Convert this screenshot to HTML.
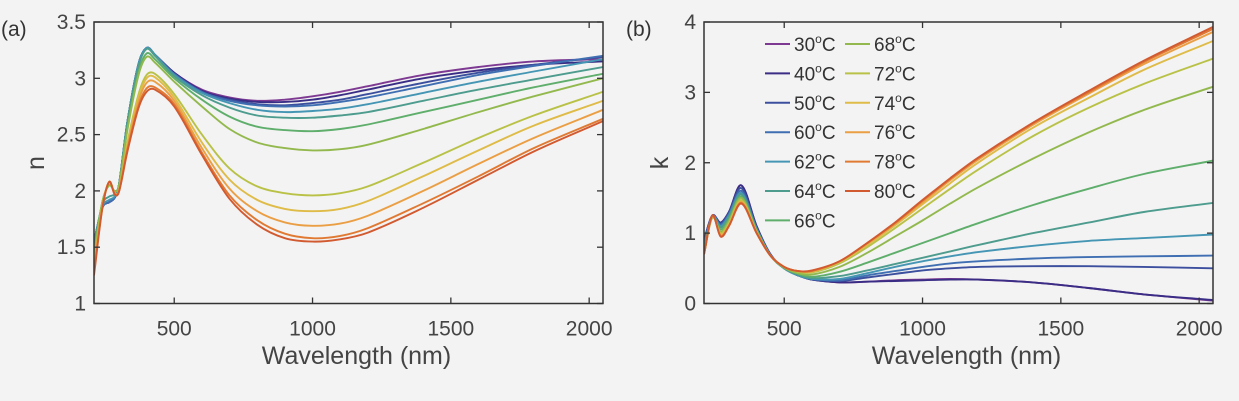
<!DOCTYPE html>
<html><head><meta charset="utf-8"><style>
html,body{margin:0;padding:0;background:#f3f3f3;}
svg{display:block;font-family:"Liberation Sans","DejaVu Sans",sans-serif;}
</style></head><body>
<svg id="fig" width="1239" height="401" viewBox="0 0 1239 401" xmlns="http://www.w3.org/2000/svg">
<rect width="1239" height="401" fill="#f3f3f3"/>
<g id="pa"></g>
<g id="pb"></g>
</svg>
<script>
const temps = ["30","40","50","60","62","64","66","68","72","74","76","78","80"];
const colors = ["#7e3a93","#3a2d85","#3c4f9e","#3f6fb2","#4596b4","#4d9c8e","#5fae6c","#93b94e","#b9c247","#dfbb47","#eb9f45","#e07a33","#d25a30"];
const wN = [210,240,265,285,300,330,370,400,430,500,600,700,800,900,1000,1100,1200,1400,1600,1800,2050];
const n30 = [1.55,1.85,1.9,1.94,2.05,2.6,3.12,3.27,3.21,3.05,2.9,2.83,2.8,2.81,2.84,2.88,2.93,3.03,3.1,3.15,3.17];
const n40 = [1.55,1.85,1.9,1.94,2.05,2.6,3.12,3.27,3.21,3.05,2.89,2.82,2.79,2.79,2.81,2.85,2.9,3.0,3.07,3.12,3.15];
const n50 = [1.55,1.85,1.9,1.94,2.05,2.6,3.12,3.27,3.21,3.04,2.88,2.81,2.77,2.76,2.78,2.81,2.86,2.96,3.05,3.12,3.19];
const n60 = [1.55,1.85,1.9,1.94,2.05,2.6,3.12,3.27,3.21,3.04,2.88,2.8,2.76,2.75,2.76,2.79,2.83,2.93,3.03,3.11,3.2];
const n62 = [1.55,1.86,1.92,1.95,2.05,2.6,3.12,3.27,3.21,3.03,2.87,2.78,2.72,2.7,2.71,2.73,2.77,2.87,2.97,3.06,3.17];
const n64 = [1.52,1.88,1.95,1.97,2.05,2.6,3.1,3.26,3.2,3.02,2.85,2.74,2.67,2.65,2.65,2.67,2.7,2.8,2.9,2.99,3.1];
const n66 = [1.45,1.9,2.05,2.0,2.05,2.55,3.05,3.22,3.17,3.0,2.81,2.66,2.57,2.54,2.53,2.55,2.59,2.7,2.81,2.92,3.04];
const n68 = [1.43,1.9,2.05,2.0,2.04,2.53,3.02,3.19,3.14,2.97,2.75,2.55,2.43,2.38,2.36,2.37,2.41,2.55,2.7,2.84,3.0];
const n72 = [1.35,1.86,2.08,1.98,2.0,2.42,2.85,3.03,3.04,2.86,2.5,2.2,2.04,1.98,1.96,1.98,2.04,2.25,2.47,2.67,2.88];
const n74 = [1.33,1.86,2.08,1.98,2.0,2.4,2.82,3.0,3.01,2.83,2.43,2.1,1.92,1.84,1.82,1.84,1.91,2.13,2.36,2.58,2.8];
const n76 = [1.31,1.85,2.08,1.98,2.0,2.38,2.79,2.96,2.97,2.8,2.38,2.02,1.82,1.72,1.69,1.71,1.78,2.0,2.24,2.47,2.72];
const n78 = [1.28,1.85,2.08,1.97,1.99,2.36,2.75,2.91,2.92,2.77,2.34,1.96,1.74,1.62,1.58,1.6,1.67,1.89,2.13,2.38,2.64];
const n80 = [1.25,1.84,2.08,1.97,1.99,2.34,2.73,2.88,2.9,2.75,2.32,1.93,1.7,1.58,1.55,1.57,1.63,1.85,2.1,2.35,2.62];
const wK = [210,240,270,300,345,400,450,500,550,600,700,800,900,1000,1100,1200,1400,1600,1800,2050];
const k30 = [0.9,1.25,1.15,1.3,1.68,1.1,0.7,0.5,0.4,0.34,0.3,0.31,0.33,0.34,0.35,0.34,0.3,0.22,0.13,0.04];
const k40 = [0.9,1.25,1.15,1.3,1.68,1.1,0.7,0.5,0.4,0.34,0.3,0.31,0.32,0.33,0.34,0.34,0.3,0.22,0.13,0.05];
const k50 = [0.88,1.25,1.14,1.29,1.64,1.08,0.69,0.5,0.4,0.34,0.32,0.37,0.42,0.47,0.5,0.52,0.53,0.53,0.52,0.5];
const k60 = [0.85,1.24,1.12,1.27,1.6,1.07,0.69,0.5,0.4,0.35,0.33,0.4,0.46,0.52,0.57,0.6,0.64,0.66,0.67,0.68];
const k62 = [0.82,1.24,1.1,1.25,1.57,1.06,0.69,0.5,0.4,0.35,0.35,0.43,0.52,0.6,0.67,0.73,0.82,0.89,0.93,0.98];
const k64 = [0.8,1.23,1.08,1.23,1.55,1.05,0.68,0.5,0.41,0.36,0.39,0.47,0.56,0.65,0.74,0.83,1.0,1.15,1.3,1.43];
const k66 = [0.75,1.22,1.05,1.2,1.52,1.04,0.68,0.51,0.42,0.38,0.45,0.58,0.72,0.86,1.0,1.14,1.4,1.63,1.84,2.03];
const k68 = [0.72,1.22,1.02,1.17,1.5,1.03,0.68,0.51,0.43,0.41,0.52,0.72,0.95,1.18,1.42,1.65,2.06,2.43,2.75,3.08];
const k72 = [0.7,1.23,1.0,1.14,1.47,1.02,0.68,0.52,0.45,0.44,0.57,0.8,1.07,1.35,1.63,1.9,2.38,2.78,3.12,3.48];
const k74 = [0.7,1.24,0.98,1.12,1.45,1.01,0.68,0.52,0.46,0.45,0.59,0.83,1.11,1.41,1.71,2.0,2.5,2.92,3.32,3.73];
const k76 = [0.7,1.24,0.97,1.11,1.44,1.0,0.68,0.52,0.46,0.46,0.6,0.85,1.13,1.44,1.75,2.04,2.54,2.98,3.4,3.86];
const k78 = [0.7,1.25,0.96,1.1,1.43,1.0,0.68,0.52,0.46,0.46,0.6,0.86,1.14,1.46,1.77,2.06,2.56,3.0,3.43,3.9];
const k80 = [0.7,1.25,0.95,1.1,1.42,1.0,0.68,0.52,0.46,0.47,0.6,0.86,1.15,1.47,1.78,2.07,2.57,3.02,3.45,3.93];
const nSeries = [n30,n40,n50,n60,n62,n64,n66,n68,n72,n74,n76,n78,n80];
const kSeries = [k30,k40,k50,k60,k62,k64,k66,k68,k72,k74,k76,k78,k80];
const xTicks = [500,1000,1500,2000];
const nTicks = [1,1.5,2,2.5,3,3.5];
const nTickLabels = ["1","1.5","2","2.5","3","3.5"];
const kTicks = [0,1,2,3,4];
const kTickLabels = ["0","1","2","3","4"];

const NS="http://www.w3.org/2000/svg";
function mk(tag,attrs,parent){const e=document.createElementNS(NS,tag);for(const k in attrs)e.setAttribute(k,attrs[k]);parent.appendChild(e);return e;}
function smooth(pts){
 const n=pts.length,m=[];
 for(let i=0;i<n;i++){const a=pts[Math.max(0,i-1)],b=pts[Math.min(n-1,i+1)];m.push((b[1]-a[1])/(b[0]-a[0]));}
 let d="M"+pts[0][0].toFixed(1)+","+pts[0][1].toFixed(1);
 for(let i=0;i<n-1;i++){const p1=pts[i],p2=pts[i+1],dx=(p2[0]-p1[0])/3;
  d+="C"+(p1[0]+dx).toFixed(1)+","+(p1[1]+m[i]*dx).toFixed(1)+" "+(p2[0]-dx).toFixed(1)+","+(p2[1]-m[i+1]*dx).toFixed(1)+" "+p2[0].toFixed(1)+","+p2[1].toFixed(1);}
 return d;}

function panel(g,cfg){
 const L=cfg.L,R=cfg.R,T=22,B=303.5;
 const xs=v=>L+(v-210)/(2050-210)*(R-L);
 const ys=v=>B-(v-cfg.ymin)/(cfg.ymax-cfg.ymin)*(B-T);
 const clipId="clip"+cfg.id;
 const defs=mk("defs",{},g);const cp=mk("clipPath",{id:clipId},defs);mk("rect",{x:L,y:T,width:R-L,height:B-T},cp);
 const lines=mk("g",{"clip-path":"url(#"+clipId+")"},g);
 
 
 cfg.series.forEach((s,i)=>{
  const pts=cfg.w.map((w,j)=>[xs(w),ys(s[j])]);
  const p=mk("path",{d:smooth(pts),fill:"none",stroke:colors[i],"stroke-width":1.9,"stroke-linejoin":"round"},lines);
  
  
 });
 const box=mk("rect",{x:L,y:T,width:R-L,height:B-T,fill:"none",stroke:"#333",'stroke-width':1.5},g);
 
 
 xTicks.forEach(v=>{const x=xs(v);
  mk("line",{x1:x,x2:x,y1:B,y2:B-6,stroke:"#333","stroke-width":1.3},g);
  mk("line",{x1:x,x2:x,y1:T,y2:T+6,stroke:"#333","stroke-width":1.3},g);
  const t=mk("text",{x:x,y:B+32,"text-anchor":"middle","font-size":21,fill:"#444"},g);t.textContent=v;
  
  
 });
 cfg.ticks.forEach((v,i)=>{const y=ys(v);
  mk("line",{x1:L,x2:L+6,y1:y,y2:y,stroke:"#333","stroke-width":1.3},g);
  mk("line",{x1:R,x2:R-6,y1:y,y2:y,stroke:"#333","stroke-width":1.3},g);
  const t=mk("text",{x:L-8,y:y+7,"text-anchor":"end","font-size":21,fill:"#444"},g);t.textContent=cfg.labels[i];
  
  
 });
 const xt=mk("text",{x:(L+R)/2+8,y:364,"text-anchor":"middle","font-size":25,fill:"#444"},g);xt.textContent="Wavelength (nm)";
 
 
 const yt=mk("text",{x:cfg.ytx,y:163,"text-anchor":"middle","font-size":25,fill:"#444",transform:"rotate(-90 "+cfg.ytx+" 163)"},g);yt.textContent=cfg.ytitle;
 
 
 const pl=mk("text",{x:cfg.plx,y:36,"font-size":21,fill:"#333"},g);pl.textContent=cfg.plabel;
 
 
}
panel(document.getElementById("pa"),{id:"a",L:94,R:603,ymin:1,ymax:3.5,ticks:nTicks,labels:nTickLabels,series:nSeries,w:wN,ytitle:"n",ytx:44,plabel:"(a)",plx:1});
panel(document.getElementById("pb"),{id:"b",L:704,R:1213,ymin:0,ymax:4,ticks:kTicks,labels:kTickLabels,series:kSeries,w:wK,ytitle:"k",ytx:668,plabel:"(b)",plx:626});

const lg=mk("g",{},document.getElementById("pb"));


temps.forEach((t,i)=>{
 const col=i<7?0:1,row=i<7?i:i-7;
 const x0=col===0?765:845,y=44+row*29.4;
 const e=mk("g",{},lg);
 
 
 mk("line",{x1:x0,x2:x0+25,y1:y,y2:y,stroke:colors[i],"stroke-width":2},e);
 const tx=mk("text",{x:x0+29,y:y+7,"font-size":19,fill:"#333"},e);
 tx.innerHTML=t+'<tspan dy="-8" font-size="12">o</tspan><tspan dy="8">C</tspan>';
});
</script>
</body></html>
